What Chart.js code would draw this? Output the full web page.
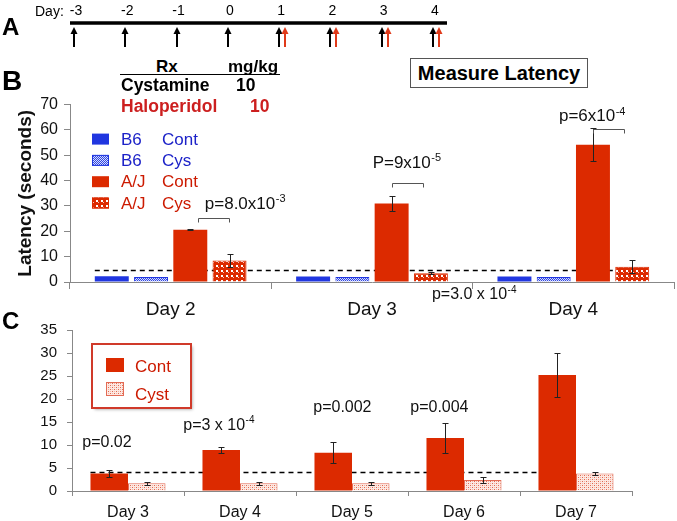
<!DOCTYPE html>
<html lang="en">
<head>
<meta charset="UTF-8">
<title>Latency</title>
<script src="https://cdn.jsdelivr.net/npm/chart.js"></script>
<style>
  body { margin: 0; background: #fff; }
  #page { position: relative; width: 677px; height: 521px; overflow: hidden; font-family: "Liberation Sans", Arial, sans-serif; }
  canvas { position: absolute; left: 0; }
  .t { position: absolute; line-height: 1; white-space: nowrap; }
  #measure { position: absolute; left: 410px; top: 58px; width: 178px; height: 30px; box-sizing: border-box;
             border: 1px solid #555; display: flex; align-items: center; justify-content: center;
             font-weight: bold; font-size: 20px; }
  #rule { position: absolute; left: 120px; top: 74px; width: 160px; height: 1px; background: #000; }
</style>
</head>
<body>
<div id="page">
  <canvas id="timeline" width="677" height="55" style="top:0"></canvas>
  <canvas id="latencyB" width="677" height="236" style="top:89px"></canvas>
  <canvas id="latencyC" width="677" height="210" style="top:311px"></canvas>
  <div id="measure">Measure Latency</div>
  <div id="rule"></div>
</div>

<script>
// Panel A: dosing days (black arrows) and latency days (red arrows)
const rxDays = [-3, -2, -1, 0, 1, 2, 3, 4];
const latencyDays = [1, 2, 3, 4];

// Panel B
const bDays = ['Day 2', 'Day 3', 'Day 4'];
const b6Cont = [2.3, 2.2, 2.2];
const b6Cys = [2.0, 2.0, 2.0];
const ajCont = [20.6, 31.0, 54.2];
const ajContErr = [0.2, 2.8, 6.5];
const ajCys = [8.5, 3.5, 6.0];
const ajCysErr = [2.7, 0.4, 2.6];
const bBaseline = 4.8;
const bStatText = ['p=8.0x10', 'P=9x10', 'p=6x10'];
const bStatExp = ['-3', '-5', '-4'];

// Panel C
const cDays = ['Day 3', 'Day 4', 'Day 5', 'Day 6', 'Day 7'];
const cCont = [3.8, 8.9, 8.3, 11.5, 25.2];
const cContErr = [0.8, 0.6, 2.3, 3.2, 4.7];
const cCyst = [1.7, 1.7, 1.7, 2.4, 3.8];
const cCystErr = [0.3, 0.3, 0.3, 0.6, 0.3];
const cBaseline = 4.2;
const cStatText = ['p=0.02', 'p=3 x 10', 'p=0.002', 'p=0.004'];
const cStatExp = ['', '-4', '', ''];

const FONT = '"Liberation Sans", Arial, sans-serif';
const RED = '#dc2a00';
const BLUE = '#2036e0';
const RED_TEXT = '#cc1a00';
const BLUE_TEXT = '#1c22c8';
const AXIS = '#888';

Chart.defaults.font.family = FONT;

// static labels, placed by baseline
function put(text, x, base, size, bold, color) {
  const d = document.createElement('div');
  d.className = 't';
  d.textContent = text;
  d.style.left = x + 'px';
  d.style.top = (base - 0.8465 * size) + 'px';
  d.style.fontSize = size + 'px';
  if (bold) d.style.fontWeight = 'bold';
  d.style.color = color || '#000';
  document.getElementById('page').appendChild(d);
}
put('A', 2, 35, 24, true);
put('Day:', 35, 16, 14, false);
put('B', 2, 91, 28, true);
put('Rx', 156, 72, 17, true);
put('mg/kg', 228, 72, 17, true);
put('Cystamine', 121, 92, 17.5, true);
put('10', 236, 92, 17.5, true);
put('Haloperidol', 121, 113, 17.5, true, '#cc1f1f');
put('10', 250, 113, 17.5, true, '#cc1f1f');
put('C', 2, 329, 24, true);

function makePattern(w, h, draw) {
  const c = document.createElement('canvas');
  c.width = w; c.height = h;
  draw(c.getContext('2d'));
  return c.getContext('2d').createPattern(c, 'repeat');
}
const bluePat = makePattern(2, 2, g => {
  g.fillStyle = '#d8ddfb'; g.fillRect(0, 0, 2, 2);
  g.fillStyle = '#2f46e6'; g.fillRect(0, 0, 1, 1); g.fillRect(1, 1, 1, 1);
});
const redPat = makePattern(5, 5, g => {
  g.fillStyle = RED; g.fillRect(0, 0, 5, 5);
  g.fillStyle = '#fff'; g.fillRect(1, 1, 2, 2);
  g.fillStyle = '#f6c8bc'; g.fillRect(3, 3, 1, 1);
});
const pinkPat = makePattern(4, 4, g => {
  g.fillStyle = '#fde8e2'; g.fillRect(0, 0, 4, 4);
  g.fillStyle = '#e06a50'; g.fillRect(0, 0, 1, 1); g.fillRect(2, 2, 1, 1);
  g.fillStyle = '#f3b3a3'; g.fillRect(2, 0, 1, 1); g.fillRect(0, 2, 1, 1);
});

function errorPlugin(errs, cap) {
  return {
    id: 'errorBars',
    afterDatasetsDraw(chart) {
      const ctx = chart.ctx, y = chart.scales.y;
      errs.forEach((e, i) => {
        if (!e) return;
        const vals = chart.data.datasets[i].data;
        chart.getDatasetMeta(i).data.forEach((bar, j) => {
          const x = Math.round(bar.x) + 0.5;
          const hi = Math.round(y.getPixelForValue(vals[j] + e[j])) + 0.5;
          const lo = Math.round(y.getPixelForValue(vals[j] - e[j])) + 0.5;
          ctx.save();
          ctx.strokeStyle = '#222';
          ctx.lineWidth = 1;
          ctx.beginPath();
          ctx.moveTo(x, hi); ctx.lineTo(x, lo);
          ctx.moveTo(x - cap, hi); ctx.lineTo(x + cap, hi);
          ctx.moveTo(x - cap, lo); ctx.lineTo(x + cap, lo);
          ctx.stroke();
          ctx.restore();
        });
      });
    }
  };
}

function baselinePlugin(value, from, to) {
  return {
    id: 'baseline',
    beforeDatasetsDraw(chart) {
      const ctx = chart.ctx;
      const y = Math.round(chart.scales.y.getPixelForValue(value)) + 0.5;
      const a = chart.getDatasetMeta(from[0]).data[from[1]];
      const b = chart.getDatasetMeta(to[0]).data[to[1]];
      ctx.save();
      ctx.strokeStyle = '#000';
      ctx.lineWidth = 1.5;
      ctx.setLineDash([5, 4]);
      ctx.beginPath();
      ctx.moveTo(a.x - a.width / 2, y);
      ctx.lineTo(b.x - b.width / 2, y);
      ctx.stroke();
      ctx.restore();
    }
  };
}

function drawP(ctx, text, sup, x, y, size) {
  ctx.font = size + 'px ' + FONT;
  ctx.fillText(text, x, y);
  if (sup) {
    const w = ctx.measureText(text).width;
    ctx.font = Math.round(size * 0.62) + 'px ' + FONT;
    ctx.fillText(sup, x + w + 0.5, y - size * 0.4);
  }
}

// ---------- Panel A ----------
const timelinePlugin = {
  id: 'timeline',
  afterDraw(chart) {
    const ctx = chart.ctx, xs = chart.scales.x, top = chart.chartArea.top;
    ctx.save();
    ctx.strokeStyle = '#000';
    ctx.lineWidth = 3.5;
    ctx.beginPath();
    ctx.moveTo(xs.getPixelForValue(rxDays[0]) - 4, top);
    ctx.lineTo(xs.getPixelForValue(rxDays[rxDays.length - 1]) + 14, top);
    ctx.stroke();
    const arrow = (px, color) => {
      ctx.strokeStyle = color; ctx.fillStyle = color; ctx.lineWidth = 2;
      ctx.beginPath(); ctx.moveTo(px, top + 9); ctx.lineTo(px, top + 24); ctx.stroke();
      ctx.beginPath(); ctx.moveTo(px, top + 4); ctx.lineTo(px - 3.5, top + 11); ctx.lineTo(px + 3.5, top + 11);
      ctx.closePath(); ctx.fill();
    };
    rxDays.forEach(d => arrow(Math.round(xs.getPixelForValue(d)), '#000'));
    latencyDays.forEach(d => arrow(Math.round(xs.getPixelForValue(d)) + 6, '#e03a1a'));
    ctx.restore();
  }
};

new Chart(document.getElementById('timeline'), {
  type: 'scatter',
  data: { datasets: [{ data: rxDays.map(d => ({ x: d, y: 0 })), pointRadius: 0 }] },
  options: {
    responsive: false, animation: false, devicePixelRatio: 1,
    layout: { padding: { left: 74, right: 244, top: 0, bottom: 0 } },
    plugins: { legend: { display: false }, tooltip: { enabled: false } },
    scales: {
      x: {
        type: 'linear', position: 'top', min: -3, max: 4,
        ticks: { stepSize: 1, font: { size: 14 }, color: '#000', padding: 3.5, labelOffset: 2 },
        grid: { display: false, drawTicks: false },
        border: { display: false },
        afterFit: s => { s.height = 23; }
      },
      y: { display: false, min: 0, max: 1 }
    }
  },
  plugins: [timelinePlugin]
});

// ---------- Panel B ----------
const bStatPos = [
  { dl: 7.5, dr: -1, bv: 25.3, tx: 14.5, tv: 28.9 },
  { dl: 0, dr: -8, bv: 39.1, tx: -19, tv: 45 },
  { dl: 0, dr: -8, bv: 60.5, tx: -34, tv: 63.4 }
];

const bNotes = {
  id: 'bNotes',
  afterDraw(chart) {
    const ctx = chart.ctx, a = chart.chartArea, ys = chart.scales.y;
    const cont = chart.getDatasetMeta(2).data, cys = chart.getDatasetMeta(3).data;
    ctx.save();
    ctx.textBaseline = 'alphabetic';
    // brackets and p values
    bStatText.forEach((t, i) => {
      const p = bStatPos[i];
      const x1 = Math.round(cont[i].x + p.dl) + 0.5, x2 = Math.round(cys[i].x + p.dr) + 0.5;
      const y = Math.round(ys.getPixelForValue(p.bv)) + 0.5;
      ctx.strokeStyle = '#555'; ctx.lineWidth = 1;
      ctx.beginPath();
      ctx.moveTo(x1, y + 4); ctx.lineTo(x1, y); ctx.lineTo(x2, y); ctx.lineTo(x2, y + 4);
      ctx.stroke();
      ctx.fillStyle = '#111';
      drawP(ctx, t, bStatExp[i], cont[i].x + p.tx, ys.getPixelForValue(p.tv), 17);
    });
    ctx.fillStyle = '#111';
    drawP(ctx, 'p=3.0 x 10', '-4', cys[1].x + 1, ys.getPixelForValue(-6.7), 16);

    // legend
    chart.data.datasets.forEach((ds, i) => {
      const top = a.top + 29 + i * 21.3;
      ctx.fillStyle = ds.backgroundColor;
      ctx.fillRect(a.left + 22, top, 17, 11);
      if (ds.borderWidth) {
        ctx.strokeStyle = ds.borderColor; ctx.lineWidth = 1;
        ctx.strokeRect(a.left + 22.5, top + 0.5, 16, 10);
      }
      const parts = ds.label.split(' ');
      ctx.fillStyle = i < 2 ? BLUE_TEXT : RED_TEXT;
      ctx.font = '17px ' + FONT;
      ctx.fillText(parts[0], a.left + 51, top + 11);
      ctx.fillText(parts[1], a.left + 92, top + 11);
    });
    ctx.restore();
  }
};

new Chart(document.getElementById('latencyB'), {
  type: 'bar',
  data: {
    labels: bDays,
    datasets: [
      { label: 'B6 Cont', data: b6Cont, backgroundColor: BLUE },
      { label: 'B6 Cys', data: b6Cys, backgroundColor: bluePat, borderColor: BLUE, borderWidth: 1 },
      { label: 'A/J Cont', data: ajCont, backgroundColor: RED },
      { label: 'A/J Cys', data: ajCys, backgroundColor: redPat, borderColor: RED, borderWidth: 1 }
    ]
  },
  options: {
    responsive: false, animation: false, devicePixelRatio: 1,
    datasets: { bar: { categoryPercentage: 0.78, barPercentage: 0.865 } },
    layout: { padding: { left: 10, right: 3, top: 0, bottom: 0 } },
    plugins: { legend: { display: false }, tooltip: { enabled: false } },
    scales: {
      x: {
        grid: { drawOnChartArea: false, tickLength: 7, color: AXIS },
        border: { color: AXIS },
        ticks: { font: { size: 19 }, color: '#111', padding: 9 },
        afterFit: s => { s.height = 43; }
      },
      y: {
        min: 0, max: 70,
        ticks: { stepSize: 10, font: { size: 16 }, color: '#111', padding: 6 },
        grid: { drawOnChartArea: false, tickLength: 6, color: AXIS },
        border: { color: AXIS },
        title: { display: true, text: 'Latency (seconds)', color: '#111',
                 font: { size: 19, weight: 'bold' }, padding: { top: 4, bottom: 4 } },
        afterFit: s => { s.width = 60; }
      }
    }
  },
  plugins: [baselinePlugin(bBaseline, [0, 0], [3, 2]),
            errorPlugin([null, null, ajContErr, ajCysErr], 3), bNotes]
});

// ---------- Panel C ----------
const cStatPos = [
  { tx: -27, tv: 9.6 },
  { tx: -38, tv: 13.3 },
  { tx: -20, tv: 17.2 },
  { tx: -35, tv: 17.2 }
];

const cNotes = {
  id: 'cNotes',
  afterDraw(chart) {
    const ctx = chart.ctx, a = chart.chartArea, ys = chart.scales.y;
    const cont = chart.getDatasetMeta(0).data;
    ctx.save();
    ctx.textBaseline = 'alphabetic';
    ctx.fillStyle = '#111';
    cStatText.forEach((t, i) => {
      drawP(ctx, t, cStatExp[i], cont[i].x + cStatPos[i].tx, ys.getPixelForValue(cStatPos[i].tv), 16);
    });

    // legend box
    const bx = a.left + 20, by = a.top + 14;
    ctx.save();
    ctx.shadowColor = 'rgba(0,0,0,0.35)';
    ctx.shadowBlur = 3; ctx.shadowOffsetX = 1.5; ctx.shadowOffsetY = 1.5;
    ctx.fillStyle = '#fff';
    ctx.fillRect(bx, by, 99, 64);
    ctx.restore();
    ctx.strokeStyle = '#d03a2a'; ctx.lineWidth = 2;
    ctx.strokeRect(bx, by, 99, 64);
    chart.data.datasets.forEach((ds, i) => {
      const top = by + 14 + i * 24;
      ctx.fillStyle = ds.backgroundColor;
      ctx.fillRect(bx + 14, top, 18, 14);
      if (ds.borderWidth) {
        ctx.strokeStyle = ds.borderColor; ctx.lineWidth = 1;
        ctx.strokeRect(bx + 14.5, top + 0.5, 17, 13);
      }
      ctx.fillStyle = RED_TEXT;
      ctx.font = '17px ' + FONT;
      ctx.fillText(ds.label, bx + 43, by + 28 + i * 28);
    });
    ctx.restore();
  }
};

new Chart(document.getElementById('latencyC'), {
  type: 'bar',
  data: {
    labels: cDays,
    datasets: [
      { label: 'Cont', data: cCont, backgroundColor: RED },
      { label: 'Cyst', data: cCyst, backgroundColor: pinkPat, borderColor: '#e36b55', borderWidth: 1 }
    ]
  },
  options: {
    responsive: false, animation: false, devicePixelRatio: 1,
    datasets: { bar: { categoryPercentage: 0.67, barPercentage: 1.0 } },
    layout: { padding: { left: 0, right: 45, top: 0, bottom: 0 } },
    plugins: { legend: { display: false }, tooltip: { enabled: false } },
    scales: {
      x: {
        grid: { drawOnChartArea: false, tickLength: 5, color: AXIS },
        border: { color: AXIS },
        ticks: { font: { size: 16 }, color: '#111', padding: 7 },
        afterFit: s => { s.height = 30; }
      },
      y: {
        min: 0, max: 35,
        ticks: { stepSize: 5, font: { size: 15 }, color: '#111', padding: 10 },
        grid: { drawOnChartArea: false, tickLength: 5, color: AXIS },
        border: { color: AXIS },
        afterFit: s => { s.width = 72; }
      }
    }
  },
  plugins: [baselinePlugin(cBaseline, [0, 0], [0, 4]),
            errorPlugin([cContErr, cCystErr], 3), cNotes]
});
</script>
</body>
</html>
